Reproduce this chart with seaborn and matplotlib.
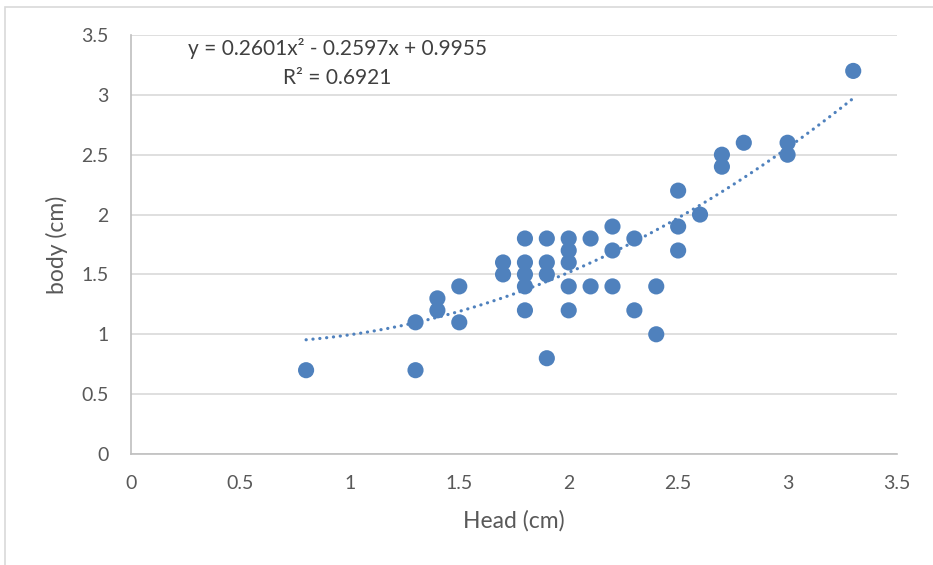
import numpy as np
import pandas as pd
import seaborn as sns
import matplotlib.pyplot as plt
from matplotlib.patches import Rectangle

head = [0.8, 1.3, 1.3, 1.4, 1.4, 1.5, 1.5, 1.7, 1.7,
        1.8, 1.8, 1.8, 1.8, 1.8, 1.9, 1.9, 1.9, 1.9,
        2.0, 2.0, 2.0, 2.0, 2.0, 2.1, 2.1, 2.2, 2.2, 2.2,
        2.3, 2.3, 2.4, 2.4, 2.5, 2.5, 2.5, 2.6, 2.7, 2.7,
        2.8, 3.0, 3.0, 3.3]
body = [0.7, 0.7, 1.1, 1.3, 1.2, 1.4, 1.1, 1.6, 1.5,
        1.8, 1.6, 1.5, 1.4, 1.2, 1.8, 1.6, 1.5, 0.8,
        1.8, 1.7, 1.6, 1.4, 1.2, 1.8, 1.4, 1.9, 1.7, 1.4,
        1.8, 1.2, 1.4, 1.0, 2.2, 1.9, 1.7, 2.0, 2.5, 2.4,
        2.6, 2.6, 2.5, 3.2]
coef = [0.2601, -0.2597, 0.9955]
r2 = 0.6921
ticks = [0, 0.5, 1, 1.5, 2, 2.5, 3, 3.5]

sns.set_theme(style="white")
plt.rcParams['font.family'] = ['Lato', 'DejaVu Sans']

W, H = 933, 565
fig = plt.figure(figsize=(W / 100, H / 100), dpi=100)
fig.patches.append(Rectangle((5 / W, -0.1), 1.2, 1 - 7 / H + 0.1,
                             transform=fig.transFigure, fill=False,
                             edgecolor='#d9d9d9', linewidth=1.2))
ax = fig.add_axes([131 / W, 1 - 454 / H, (897 - 131) / W, (454 - 35) / H])

df = pd.DataFrame({"Head (cm)": head, "body (cm)": body})
blue = '#4F81BD'
sns.scatterplot(data=df, x="Head (cm)", y="body (cm)", ax=ax, color=blue,
                s=135, edgecolor='none', linewidth=0, zorder=3)

xs = np.linspace(min(head), max(head), 200)
ys = np.polyval(coef, xs)
sns.lineplot(x=xs, y=ys, ax=ax, color=blue, linewidth=2.3,
             linestyle=(0, (0.05, 2.1)), dash_capstyle='round', zorder=4)

ax.set_xlim(0, 3.5)
ax.set_ylim(0, 3.5)
ax.set_xticks(ticks)
ax.set_yticks(ticks)
ax.set_xticklabels([f"{t:g}" for t in ticks])
ax.set_yticklabels([f"{t:g}" for t in ticks])
ax.yaxis.grid(True, color='#d9d9d9', linewidth=1.2)
ax.xaxis.grid(False)
for s in ['top', 'right']:
    ax.spines[s].set_visible(False)
for s in ['left', 'bottom']:
    ax.spines[s].set_color('#bfbfbf')
    ax.spines[s].set_linewidth(1.2)
ax.tick_params(axis='both', length=0, labelsize=14, labelcolor='#595959')
ax.tick_params(axis='y', pad=16)
ax.tick_params(axis='x', pad=15)
ax.set_xlabel("Head (cm)", fontsize=16.5, color='#595959', labelpad=13)
ax.set_ylabel("body (cm)", fontsize=16.5, color='#595959', labelpad=10)

eq = f"y = {coef[0]:.4f}x² - {abs(coef[1]):.4f}x + {coef[2]:.4f}\nR² = {r2:.4f}"
ax.text(337, H - 63, eq, transform=None, fontsize=15, color='#404040',
        ha='center', va='center', multialignment='center', linespacing=1.55)

fig.savefig("out.png", dpi=100)
